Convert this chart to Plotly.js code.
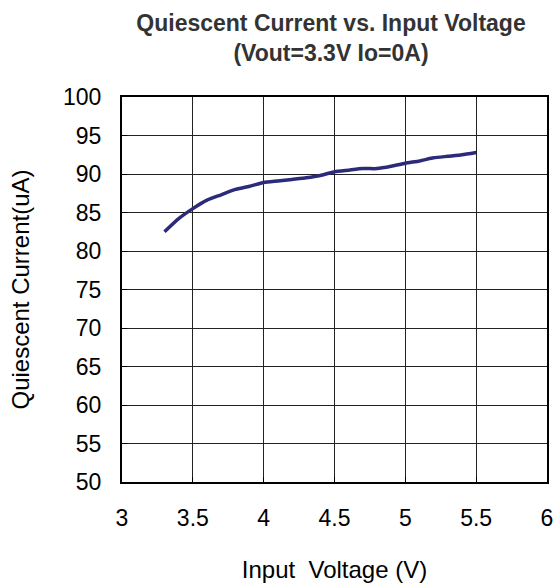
<!DOCTYPE html>
<html>
<head>
<meta charset="utf-8">
<script src="https://cdn.plot.ly/plotly-3.0.1.min.js"></script>
<style>html,body{margin:0;padding:0;background:#fff;}#chart{width:555px;height:585px;}</style>
</head>
<body>
<div id="chart"></div>
<script>
const inputVoltage = [3.3, 3.4, 3.5, 3.6, 3.7, 3.8, 3.9, 4.0, 4.1, 4.2, 4.3, 4.4, 4.5, 4.6, 4.7, 4.8, 4.9, 5.0, 5.1, 5.2, 5.3, 5.4, 5.5];
const quiescentCurrent = [82.5, 84.2, 85.5, 86.6, 87.3, 88.0, 88.4, 88.9, 89.1, 89.3, 89.5, 89.8, 90.3, 90.5, 90.7, 90.7, 91.0, 91.4, 91.7, 92.1, 92.3, 92.5, 92.8];
const xTicks = [3, 3.5, 4, 4.5, 5, 5.5, 6];
const yTicks = [50, 55, 60, 65, 70, 75, 80, 85, 90, 95, 100];

const trace = {
  x: inputVoltage,
  y: quiescentCurrent,
  type: 'scatter',
  mode: 'lines',
  line: {color: '#2B2B7A', width: 3.5, shape: 'spline', smoothing: 0.5},
  hoverinfo: 'skip'
};

const layout = {
  width: 555,
  height: 585,
  margin: {l: 122, r: 8, t: 97, b: 103},
  paper_bgcolor: '#ffffff',
  plot_bgcolor: '#ffffff',
  showlegend: false,
  font: {family: 'Liberation Sans, Arial, sans-serif', color: '#000'},
  title: {
    text: '<b>Quiescent Current vs. Input Voltage<br>(Vout=3.3V Io=0A)</b>',
    font: {size: 23, color: '#333333', family: 'Liberation Sans, Arial, sans-serif'},
    xref: 'container', x: 331 / 555, xanchor: 'center',
    yref: 'container', y: 1 - 31 / 585, yanchor: 'middle'
  },
  xaxis: {
    range: [3, 6],
    tickvals: xTicks,
    ticktext: xTicks.map(String),
    tickfont: {size: 23, color: '#000'},
    ticks: 'inside', ticklen: 5, tickcolor: '#000',
    showgrid: true, gridcolor: '#222', gridwidth: 1,
    showline: true, linecolor: '#000', linewidth: 2, mirror: true,
    zeroline: false,
    ticklabelstandoff: 14,
    title: {text: 'Input\u00a0 Voltage (V)', font: {size: 24, color: '#000'}, standoff: 32}
  },
  yaxis: {
    range: [50, 100],
    tickvals: yTicks,
    ticktext: yTicks.map(String),
    tickfont: {size: 23, color: '#000'},
    ticks: 'inside', ticklen: 5, tickcolor: '#000',
    showgrid: true, gridcolor: '#222', gridwidth: 1,
    showline: true, linecolor: '#000', linewidth: 2, mirror: true,
    zeroline: false,
    ticklabelstandoff: 14,
    title: {text: 'Quiescent Current(uA)', font: {size: 24, color: '#000'}, standoff: 27}
  }
};

Plotly.newPlot('chart', [trace], layout, {displayModeBar: false, staticPlot: true});
</script>
</body>
</html>
